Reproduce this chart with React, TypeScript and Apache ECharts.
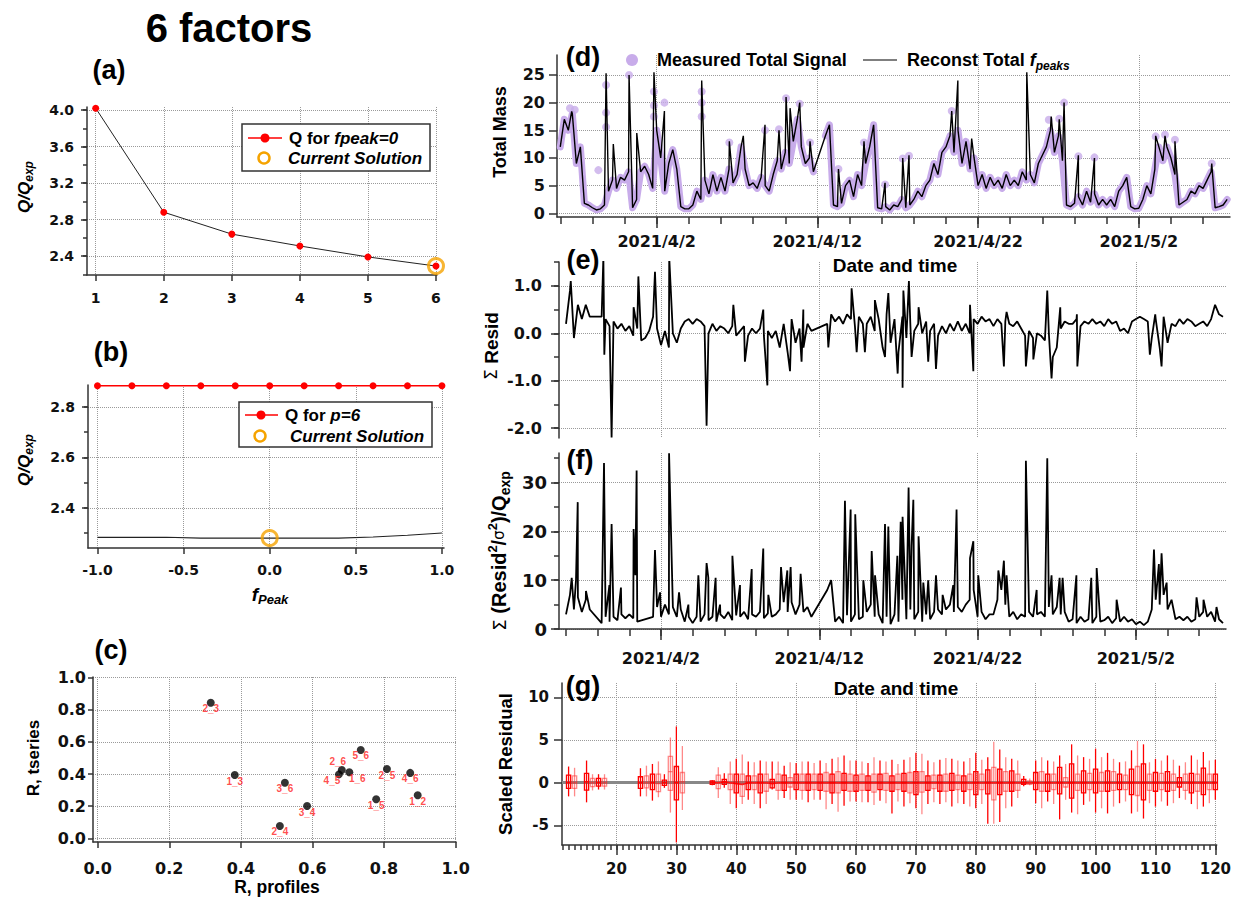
import React, { useEffect, useRef } from "react";
import * as echarts from "echarts";

// ---------------- (a) Q/Qexp vs number of factors ----------------
const factorCounts = [1, 2, 3, 4, 5, 6];
const qForFpeak0 = [4.02, 2.88, 2.64, 2.51, 2.39, 2.29];
const currentSolutionA = [6, 2.29];

// ---------------- (b) Q/Qexp vs fpeak ----------------
const fpeakValues = [-1, -0.8, -0.6, -0.4, -0.2, 0, 0.2, 0.4, 0.6, 0.8, 1];
const qForP6 = [2.883, 2.883, 2.883, 2.883, 2.883, 2.883, 2.883, 2.883, 2.883, 2.883, 2.883];
const qVsFpeak = [2.284, 2.284, 2.284, 2.281, 2.281, 2.281, 2.281, 2.281, 2.285, 2.292, 2.301];
const currentSolutionB = [0, 2.281];

// ---------------- (c) correlations ----------------
const pairNames = ["2_3", "1_3", "3_6", "3_4", "2_4", "4_5", "2_6", "1_6", "5_6", "2_5", "4_6", "1_5", "1_2"];
const rProfiles = [0.316, 0.383, 0.523, 0.585, 0.509, 0.674, 0.682, 0.703, 0.735, 0.808, 0.873, 0.778, 0.894];
const rTseries = [0.844, 0.394, 0.346, 0.201, 0.077, 0.398, 0.425, 0.411, 0.55, 0.431, 0.407, 0.243, 0.268];

// ---------------- time series (days since 2021-03-01), regular step ----------------
const tsStart = 26;
const tsStep = 0.25;

// (d) total mass
const totalMass = [
  12, 17, 15, 18, 9, 12, 1.8, 1.5, 1.0, 0.6, 0.8, 1.5, 4, 6, 4.5, 6.5,
  6, 7.5, 1.0, 2.5, 7.5, 8.5, 7, 4.5, 15, 10, 4, 9, 11.5, 8, 1.2, 0.8,
  0.8, 1.5, 4, 2.5, 6, 3.5, 7, 4, 6.5, 4, 8, 5.5, 7, 12, 8, 5,
  5.5, 4.5, 6.5, 5, 4, 7, 9.5, 8, 11, 9, 13, 17, 12, 9, 10, 7.5,
  null, null, 14, 16, 1.5, 1.2, 1.8, 5, 6, 3, 7, 5, 9, 12, 16, 1.0,
  0.8, 1.2, 0.6, 1.5, 1.2, 2.5, 1.0, 1.5, 2.5, 4, 3, 5, 6, 9, 7, 11,
  12, 14, 11, 15, 9, 13, 8, 10, 5, 7, 4.5, 6.5, 5, 6, 4.5, 7,
  5, 6, 5, 7.5, 6, 7, 5.5, 9, 10.5, 12, 15, 11, 14, 9.5, 1.5, 1.2,
  1.8, 3, 1.5, 4, 2, 3.5, 1.5, 2.5, 1.5, 2.5, 1.2, 4, 5, 6.5, 1.2, 0.8,
  0.9, 2.5, 5, 3.5, 8, 12, 9.5, 12, 10, 7, 1.5, 2, 2.5, 4, 3.5, 5,
  4.5, 6, 7.5, 1.0, 1.2, 1.5, 2.5,
];
const massSpikeT = [26.71, 28.85, 29.3, 30.28, 30.76, 31.83, 32.48, 34.8, 36.52, 37.39, 38.74, 39.61, 40.05, 40.3, 40.9, 41.54, 43.31, 44.9, 46.21, 47.31, 47.7, 50.36, 50.74, 51.6, 55.03, 56.55, 57.05, 57.35, 58.24, 59.24, 63.05, 63.63, 64.25, 66.54];
const massSpikeV = [18.4, 25.3, 12.5, 25.0, 14.5, 25.5, 18.5, 24.0, 13.0, 14.0, 16.0, 15.0, 21.0, 19.0, 20.0, 13.0, 8.0, 13.0, 5.5, 10.0, 10.5, 18.5, 24.0, 13.5, 25.5, 17.5, 17.0, 20.0, 10.5, 10.0, 14.0, 14.0, 13.0, 9.0];
const measuredExtraT = [26.6, 26.9, 28.37, 28.85, 28.85, 28.85, 30.28, 31.83, 31.83, 31.83, 32.48, 34.8, 34.8, 34.8, 36.52, 38.74, 39.61, 40.05, 40.9, 41.54, 43.31, 44.9, 46.21, 47.31, 47.7, 50.36, 56.4, 57.05, 57.35, 58.24, 59.24, 63.05, 63.63, 64.25, 66.54];
const measuredExtraV = [19.0, 18.7, 7.8, 23.2, 18.2, 15.6, 25.0, 22.0, 19.5, 17.5, 20.0, 22.0, 20.0, 17.5, 12.8, 15.0, 15.2, 20.8, 19.8, 12.8, 8.0, 12.8, 5.2, 9.9, 10.4, 18.5, 16.9, 17.1, 20.0, 10.3, 10.1, 13.9, 14.2, 13.3, 9.0];

// (e) sum of residuals
const sumResid = [
  0.2, 0.9, -0.1, 0.6, 0.3, 0.6, 0.35, null, null, 0.35, 0.3, 0.15, 0.25, 0.1, 0.2, 0.05,
  0.15, -0.05, 0.1, -0.15, -0.1, 0.05, 0.35, 0.1, -0.25, 0.05, -0.3, 0.0, -0.2, 0.1, 0.25, 0.3,
  0.2, 0.3, 0.25, 0.15, 0.0, 0.2, 0.05, 0.15, 0.1, 0.0, 0.15, -0.05, 0.05, 0.15, -0.05, 0.1,
  0.0, 0.1, -0.05, 0.05, -0.1, 0.05, -0.3, 0.2, -0.4, 0.3, -0.2, 0.1, -0.3, 0.2, 0.05, null,
  null, null, 0.2, 0.4, 0.25, 0.35, 0.2, 0.4, 0.3, 0.15, 0.35, 0.2, 0.2, 0.35, 0.05, 0.3,
  -0.3, 0.4, -0.2, 0.3, -0.4, 0.35, -0.1, 0.2, 0.05, 0.2, 0.0, 0.25, 0.05, 0.2, -0.05, 0.15,
  0.0, 0.2, 0.05, 0.25, 0.05, 0.2, 0.0, 0.3, 0.2, 0.35, 0.25, 0.3, 0.15, 0.3, 0.2, 0.25,
  0.2, 0.15, 0.25, 0.1, -0.05, 0.05, -0.1, 0.0, -0.05, -0.15, 0.0, -0.5, -0.3, 0.1, 0.25, 0.2,
  0.2, 0.3, 0.15, 0.25, 0.2, 0.3, 0.2, 0.25, 0.15, 0.3, 0.2, 0.25, 0.05, 0.1, 0.0, 0.25,
  0.3, 0.35, 0.3, 0.25, -0.1, 0.3, -0.3, 0.35, -0.2, 0.2, 0.15, 0.3, 0.2, 0.3, 0.25, 0.15,
  0.2, 0.25, 0.15, 0.3, 0.6, 0.4, 0.35,
];
const residSpikeT = [26.3, 28.36, 28.42, 28.88, 30.27, 30.57, 31.62, 32.52, 34.88, 36.57, 37.3, 38.46, 38.72, 40.15, 40.88, 40.99, 42.57, 44.04, 44.36, 44.88, 45.51, 46.15, 46.36, 46.95, 47.26, 47.31, 47.66, 47.83, 48.27, 48.88, 49.37, 51.52, 51.73, 53.66, 53.83, 55.05, 55.52, 56.4, 56.67, 57.22, 58.27, 58.3, 62.88, 63.22, 63.62];
const residSpikeV = [1.1, 1.6, -0.45, -2.2, 0.55, 1.2, 1.3, 1.6, -1.95, 0.6, -0.6, 0.5, -1.1, -0.8, -0.6, 0.5, -0.3, 0.95, -0.4, -0.4, 0.7, -0.5, 0.85, -0.85, -1.15, 0.9, 1.1, -0.5, 0.55, -0.6, -0.75, 0.6, -0.8, -0.7, 0.45, -0.7, -0.55, 0.9, -0.95, 0.55, 0.4, -0.7, -0.45, 0.4, -0.7];

// (f) scaled Q contribution
const scaledQ = [
  3, 7, 4, 6.5, 3.5, 6, 4, null, null, 1.2, 2.5, 1.5, 2.5, 1.8, 3, 2.2,
  3, 2.2, 1.5, null, null, null, 2.5, 4.5, 2.5, 5, 3, 4.5, 2.5, 4, 1.5, 2.5,
  1.2, 2.5, 1.5, 3, 1.8, 2.5, 1.5, 3, 2.2, 3.5, 1.8, 2.8, 2.5, 3.5, 2, 3,
  2.5, 3.5, 2.2, 3.2, 2.5, 3, 4, 5.5, 3.5, 5.5, 3, 5, 3.5, 4.5, 2.5, null,
  null, null, 8, 10, 1.5, 2.5, 1.2, 2.8, 1.5, 3, 2, 2.5, 3.5, 5, 2.5, 3,
  1.2, 2.5, 1.0, 3, 1.5, 6, 2, 4, 2, 3.5, 1.5, 3, 2, 3.5, 4, 3,
  4, 5, 3.5, 4.5, 3.5, 5, 6, 8, 2.5, 3.5, 2, 3, 3, 6, 8, 5,
  2.5, 3.5, 2, 3, 2.5, 3.5, 2.5, 3, 3.5, 2.5, 4.5, 3, 4.5, 3, 3.5, 1.5,
  2, 1.2, 2.5, 1.5, 2, 1.2, 2.5, 1.5, 1.8, 2.5, 1.2, 2.2, 1.5, 2.5, 1.5, 2,
  1, 1.5, 0.8, 1.5, 4, 6, 5, 7, 4, 6, 2, 2.5, 1.8, 2.5, 1.5, 2,
  2.5, 3.5, 2.5, 3.5, 1.5, 2, 1.2,
];
const qSpikeT = [26.36, 26.63, 26.74, 27.26, 28.4, 28.74, 28.88, 29.47, 30.27, 30.38, 30.46, 31.62, 31.94, 32.51, 33.14, 33.73, 34.36, 34.88, 34.99, 35.45, 35.73, 36.51, 36.99, 37.73, 38.46, 38.78, 39.58, 39.98, 40.19, 40.82, 43.62, 43.98, 44.27, 44.78, 45.31, 45.52, 46.15, 46.36, 46.93, 47.14, 47.26, 47.64, 47.83, 47.94, 48.27, 48.57, 48.88, 49.37, 49.79, 50.46, 50.67, 51.52, 51.73, 52.04, 53.31, 53.66, 53.83, 55.05, 55.73, 56.4, 56.67, 57.18, 57.37, 58.24, 59.18, 59.52, 60.78, 63.14, 63.45, 63.62, 63.94, 65.83, 66.27, 67.09];
const qSpikeV = [10.5, 10, 26, 7.8, 34, 9, 21.5, 8.5, 20.5, 11, 32.5, 16.2, 7.5, 36, 7.5, 5, 11, 13.5, 10.5, 10.5, 5, 15, 9, 12.3, 16.5, 7, 12.7, 12, 12.7, 11.3, 26.3, 24.5, 23.5, 10, 16, 11, 21.5, 21, 15, 22, 23, 29, 17, 26.5, 19, 9.5, 10, 11, 7, 9, 24.5, 14.5, 18, 11, 12, 14, 11, 34.5, 8, 35, 11, 10.5, 10.5, 11, 10.5, 12.5, 6, 16.3, 13.3, 15.5, 9.5, 6.5, 6, 4.5];

// ---------------- (g) scaled residual box plots ----------------
const boxX = [12, 13, 15, 16, 17, 18, 24, 25, 26, 27, 28, 29, 30, 31,
  36, 37, 38, 39, 40, 41, 42, 43, 44, 45, 46, 47, 48, 49, 50, 51, 52, 53, 54, 55, 56, 57, 58, 59, 60,
  61, 62, 63, 64, 65, 66, 67, 68, 69, 70, 71, 72, 73, 74, 75, 76, 77, 78, 79, 80,
  81, 82, 83, 84, 85, 86, 87, 88, 89, 90, 91, 92, 93, 94, 95, 96, 97, 98, 99, 100,
  101, 102, 103, 104, 105, 106, 107, 108, 109, 110, 111, 112, 113, 114, 115, 116, 117, 118, 119, 120];
const boxMin = [-1.6, -1.6, -2.3, -0.9, -0.8, -0.8, -1.6, -1.6, -2.1, -1.7, -0.6, -3.5, -7.0, -3.2,
  -0.3, -1.8, -0.6, -2.5, -3.0, -2.5, -2.0, -2.5, -3.0, -2.5, -0.8, -2.0, -1.8, -2.0, -2.0, -2.0, -2.3, -2.0, -2.0, -3.1, -2.5, -3.4, -2.7, -2.2, -2.2,
  -2.3, -2.3, -2.6, -2.1, -2.4, -3.6, -2.2, -2.8, -2.4, -3.0, -3.7, -2.5, -2.3, -2.5, -2.3, -2.8, -2.4, -2.5, -2.8, -3.0,
  -2.5, -4.8, -4.8, -4.6, -3.0, -2.8, -1.8, -0.4, -0.3, -2.4, -3.0, -2.2, -2.5, -4.3, -2.0, -3.5, -3.7, -2.6, -2.2, -3.5,
  -3.0, -3.6, -2.8, -2.4, -2.2, -3.6, -3.4, -4.2, -2.4, -2.8, -2.2, -2.7, -2.4, -1.8, -2.0, -2.5, -3.1, -2.8, -2.4, -2.0];
const boxQ1 = [-0.66, -0.66, -0.86, -0.45, -0.4, -0.4, -0.66, -0.6, -0.8, -1.05, -0.3, -0.9, -2.0, -1.2,
  -0.2, -0.7, -0.2, -0.8, -1.2, -1.6, -0.8, -0.8, -1.2, -1.0, -0.6, -0.9, -0.9, -0.5, -0.8, -0.9, -0.9, -0.8, -0.9, -1.0, -1.2, -1.2, -0.9, -1.0, -1.0,
  -0.9, -0.9, -1.1, -0.8, -0.9, -1.0, -0.8, -1.0, -1.2, -1.4, -1.1, -0.9, -0.7, -1.0, -1.0, -0.9, -0.8, -1.0, -0.8, -1.4,
  -0.8, -1.3, -2.0, -1.4, -1.0, -1.0, -0.9, -0.2, -0.2, -0.8, -1.0, -1.0, -0.8, -1.3, -0.5, -1.8, -0.9, -1.2, -0.8, -1.2,
  -1.0, -1.0, -0.9, -0.8, -0.8, -1.4, -1.5, -2.0, -0.9, -1.0, -0.8, -1.0, -0.9, -0.5, -0.9, -1.2, -1.0, -1.4, -0.8, -0.8];
const boxMed = [0, 0, 0.1, 0, 0, 0, 0, 0, 0, -0.1, 0, 1.3, 0, 0.1,
  0, 0, 0.1, 0, -0.1, -0.2, 0, 0, 0, 0, -0.1, 0, 0, 0, 0, 0, 0, 0, 0, 0, 0, 0, 0, 0, 0,
  0, 0, 0, 0, 0, 0, 0, 0, 0, 0, 0, 0, 0, 0, 0, 0, 0, 0, 0, 0,
  0, 0, 0, 0, 0, 0, 0, 0, 0, 0, 0, 0, 0, 0, 0, 0, 0, 0, 0, 0,
  0, 0, 0, 0, 0, 0, 0, 0, 0, 0, 0, 0, 0, 0, 0, 0, 0, 0, 0, 0];
const boxQ3 = [0.9, 0.8, 1.1, 0.5, 0.5, 0.5, 0.7, 0.8, 1.0, 1.0, 0.3, 3.1, 1.9, 1.2,
  0.2, 0.9, 0.4, 1.0, 1.0, 1.0, 0.8, 0.8, 1.0, 1.0, 0.4, 1.0, 0.9, 0.6, 1.0, 1.0, 1.0, 1.0, 1.0, 1.2, 1.0, 1.3, 1.1, 1.0, 0.9,
  1.0, 0.8, 1.0, 1.0, 1.1, 0.8, 1.0, 1.1, 1.2, 1.3, 1.3, 0.8, 0.9, 0.9, 1.0, 1.1, 0.9, 0.8, 1.0, 1.3,
  1.0, 1.5, 1.8, 1.6, 1.3, 1.4, 1.0, 0.4, 0.2, 1.2, 1.3, 1.0, 1.0, 1.8, 0.6, 2.2, 1.0, 1.4, 1.1, 1.6,
  1.2, 1.4, 1.3, 1.0, 0.9, 1.6, 1.9, 2.2, 1.0, 1.2, 1.1, 1.3, 1.0, 0.6, 1.0, 1.1, 1.0, 1.7, 1.0, 1.0];
const boxMax = [1.9, 1.75, 2.6, 1.0, 1.0, 1.0, 1.7, 2.0, 2.2, 2.5, 1.0, 5.3, 6.6, 4.3,
  0.3, 1.8, 1.1, 2.5, 2.8, 3.3, 2.5, 2.4, 2.6, 2.5, 2.5, 2.5, 2.0, 2.4, 2.3, 2.5, 2.5, 2.3, 2.6, 2.3, 2.8, 3.0, 3.2, 2.6, 2.6,
  2.5, 2.3, 3.0, 2.6, 2.5, 2.7, 2.2, 2.7, 3.0, 3.5, 3.4, 2.6, 2.4, 2.7, 2.9, 2.8, 2.6, 2.5, 2.9, 3.5,
  2.7, 3.0, 4.8, 3.9, 3.0, 2.8, 2.6, 0.8, 0.5, 2.6, 3.0, 2.6, 2.5, 3.2, 2.2, 4.5, 3.2, 3.0, 2.8, 4.0,
  3.0, 3.5, 2.8, 2.4, 2.5, 3.8, 4.9, 4.5, 2.4, 2.8, 2.6, 3.2, 2.7, 2.0, 2.4, 3.2, 2.7, 3.6, 2.6, 2.7];

// ---------------- tick values ----------------
const aXTicks = [1, 2, 3, 4, 5, 6];
const aYMinor = [2.2, 2.4, 2.6, 2.8, 3.0, 3.2, 3.4, 3.6, 3.8, 4.0];
const aYLabels = [2.4, 2.8, 3.2, 3.6, 4.0];
const bXLabels = [-1, -0.5, 0, 0.5, 1];
const bYMinor = [2.3, 2.4, 2.5, 2.6, 2.7, 2.8];
const bYLabels = [2.4, 2.6, 2.8];
const cLabels = [0, 0.2, 0.4, 0.6, 0.8, 1.0];
const dateTicks = [32, 42, 52, 62];
const massLabels = [0, 5, 10, 15, 20, 25];
const residMinor = [-2, -1.5, -1, -0.5, 0, 0.5, 1, 1.5];
const residLabels = [-2, -1, 0, 1];
const qMinor = [0, 5, 10, 15, 20, 25, 30, 35];
const qLabels = [0, 10, 20, 30];
const gXLabels = [20, 30, 40, 50, 60, 70, 80, 90, 100, 110, 120];
const gYLabels = [-5, 0, 5, 10];

// ---------------- helpers ----------------
const AXC = "#333";
const FT = '"Liberation Sans", Arial, sans-serif';
const FN = '"DejaVu Sans", sans-serif';

const evenDays: number[] = [];
for (let d = 26; d <= 66; d += 2) evenDays.push(d);
const unitTicks: number[] = [];
for (let v = 11; v <= 120; v += 1) unitTicks.push(v);

const dayLabel = (v: number) => {
  const d = new Date(Date.UTC(2021, 2, 1) + Math.round(v) * 86400000);
  return `${d.getUTCFullYear()}/${d.getUTCMonth() + 1}/${d.getUTCDate()}`;
};
const f1 = (v: number) => v.toFixed(1);
const f0 = (v: number) => String(Math.round(v));

function axisPair(o: any) {
  const base = { type: "value", gridIndex: o.grid, min: o.min, max: o.max, position: o.pos };
  const tickStyle = { color: AXC, width: 1.5 };
  const main = {
    ...base,
    axisLine: { show: o.line !== false, onZero: false, lineStyle: { color: AXC, width: 1.5 } },
    axisTick: { show: !!o.minor, customValues: o.minor || [], length: o.minorLen ?? 5, lineStyle: tickStyle },
    axisLabel: { show: false },
    splitLine: { show: false },
  };
  const major = {
    ...base,
    axisLine: { show: false, onZero: false },
    axisTick: { show: (o.majorLen ?? 7) > 0, customValues: o.major || [], length: o.majorLen ?? 7, lineStyle: tickStyle },
    axisLabel: {
      show: !!o.labels,
      customValues: o.labels || [],
      formatter: o.fmt,
      margin: o.margin ?? 8,
      fontSize: o.fs ?? 14,
      fontWeight: "bold",
      fontFamily: FN,
      color: "#111",
    },
    splitLine: { show: true, lineStyle: { color: "#9a9a9a", type: "dotted", width: 1 } },
  };
  return [main, major];
}

function buildTs(vals: (number | null)[], spikeT?: number[], spikeV?: number[]) {
  const pts: any[] = vals.map((v, i) => [tsStart + i * tsStep, v]);
  if (spikeT && spikeV) spikeT.forEach((t, i) => pts.push([t, spikeV[i]]));
  pts.sort((a, b) => a[0] - b[0]);
  return pts;
}

const rs = (size: number, italic = false, weight = "bold", family = FT, extra: any = {}) => ({
  fontSize: size,
  fontStyle: italic ? "italic" : "normal",
  fontWeight: weight,
  fontFamily: family,
  fill: "#000",
  ...extra,
});

function text(x: number, y: number, t: string, style: any, rotation = 0, align = "center") {
  return {
    type: "text",
    x,
    y,
    rotation,
    z: 100,
    style: { text: t, fill: "#000", align, verticalAlign: "middle", ...style },
  };
}

// label placement for the crowded cluster in panel (c)
const cLabelPlace: Record<string, any> = {
  "4_5": { position: "bottom", distance: -3, offset: [-7, 0] },
  "2_6": { position: "top", distance: 0, offset: [-4, 0] },
  "1_6": { position: "bottom", distance: -3, offset: [8, 0] },
};

function buildOption() {
  const axA = [
    axisPair({ grid: 0, pos: "bottom", min: 0.872, max: 6.015, major: aXTicks, labels: aXTicks, majorLen: 6, fmt: f0, margin: 16, fs: 14 }),
    axisPair({ grid: 0, pos: "left", min: 2.192, max: 4.033, minor: aYMinor, minorLen: 4, major: aYLabels, labels: aYLabels, majorLen: 6, fmt: f1, margin: 13, fs: 14 }),
  ];
  const axB = [
    axisPair({ grid: 1, pos: "bottom", min: -1.055, max: 1.012, major: bXLabels, labels: bXLabels, majorLen: 6, fmt: f1, margin: 15, fs: 14 }),
    axisPair({ grid: 1, pos: "left", min: 2.2416, max: 2.886, minor: bYMinor, minorLen: 4, major: bYLabels, labels: bYLabels, majorLen: 6, fmt: f1, margin: 13, fs: 14 }),
  ];
  const axC = [
    axisPair({ grid: 2, pos: "bottom", min: -0.013, max: 1.001, major: cLabels, labels: cLabels, majorLen: 6, fmt: f1, margin: 18, fs: 16 }),
    axisPair({ grid: 2, pos: "left", min: -0.023, max: 1.004, major: cLabels, labels: cLabels, majorLen: 5, fmt: f1, margin: 7, fs: 16 }),
  ];
  const axD = [
    axisPair({ grid: 3, pos: "bottom", min: 25.796, max: 67.676, minor: evenDays, minorLen: 7, major: dateTicks, labels: dateTicks, majorLen: 11, fmt: dayLabel, margin: 16, fs: 16 }),
    axisPair({ grid: 3, pos: "left", min: -0.67, max: 28.61, major: massLabels, labels: massLabels, majorLen: 8, fmt: f0, margin: 12, fs: 16 }),
  ];
  const axE = [
    axisPair({ grid: 4, pos: "bottom", min: 25.557, max: 67.69, line: false, major: dateTicks, majorLen: 0 }),
    axisPair({ grid: 4, pos: "left", min: -2.209, max: 1.504, minor: residMinor, minorLen: 5, major: residLabels, labels: residLabels, majorLen: 8, fmt: f1, margin: 17, fs: 16 }),
  ];
  const axF = [
    axisPair({ grid: 5, pos: "bottom", min: 25.557, max: 67.69, minor: evenDays, minorLen: 7, major: dateTicks, labels: dateTicks, majorLen: 11, fmt: dayLabel, margin: 21, fs: 16 }),
    axisPair({ grid: 5, pos: "left", min: 0, max: 36.07, minor: qMinor, minorLen: 5, major: qLabels, labels: qLabels, majorLen: 8, fmt: f0, margin: 12, fs: 18 }),
  ];
  const axG = [
    axisPair({ grid: 6, pos: "bottom", min: 10.9, max: 120.22, minor: unitTicks, minorLen: 5, major: gXLabels, labels: gXLabels, majorLen: 10, fmt: f0, margin: 16, fs: 15 }),
    axisPair({ grid: 6, pos: "left", min: -7.3, max: 11.69, major: gYLabels, labels: gYLabels, majorLen: 8, fmt: f0, margin: 13, fs: 15 }),
  ];
  const all = [axA, axB, axC, axD, axE, axF, axG];
  const xAxis: any[] = [];
  const yAxis: any[] = [];
  all.forEach((p) => {
    xAxis.push(...p[0]);
    yAxis.push(...p[1]);
  });
  const ix = (k: number) => ({ xAxisIndex: 2 * k, yAxisIndex: 2 * k });

  const orangeRing = { color: "rgba(0,0,0,0)", borderColor: "#f5a300", borderWidth: 3 };
  const purple = "#c8acea";

  const boxData = boxX.map((x, i) => [x, boxMin[i], boxQ1[i], boxMed[i], boxQ3[i], boxMax[i]]);
  const medLine = boxX.map((x, i) => [x, boxMed[i]]).filter((p) => p[0] >= 36);

  const series: any[] = [
    // (a)
    {
      type: "line", ...ix(0), data: factorCounts.map((x, i) => [x, qForFpeak0[i]]),
      symbol: "circle", symbolSize: 7, itemStyle: { color: "#ff0000" }, lineStyle: { color: "#222", width: 1 }, clip: false, z: 3,
    },
    { type: "scatter", ...ix(0), data: [currentSolutionA], symbol: "circle", symbolSize: 15, itemStyle: orangeRing, clip: false, z: 4 },
    // (b)
    {
      type: "line", ...ix(1), data: fpeakValues.map((x, i) => [x, qForP6[i]]),
      symbol: "circle", symbolSize: 7, itemStyle: { color: "#ff0000" }, lineStyle: { color: "#ff0000", width: 1.5 }, clip: false, z: 3,
    },
    { type: "line", ...ix(1), data: fpeakValues.map((x, i) => [x, qVsFpeak[i]]), symbol: "none", lineStyle: { color: "#222", width: 1.2 }, z: 3 },
    { type: "scatter", ...ix(1), data: [currentSolutionB], symbol: "circle", symbolSize: 15, itemStyle: orangeRing, clip: false, z: 4 },
    // (c)
    {
      type: "scatter", ...ix(2),
      data: pairNames.map((n, i) => ({ name: n, value: [rProfiles[i], rTseries[i]], label: cLabelPlace[n] })),
      symbol: "circle", symbolSize: 8, itemStyle: { color: "#000" },
      label: { show: true, position: "bottom", distance: -3, formatter: "{b}", color: "#ff2020", fontSize: 10, fontWeight: "bold", fontFamily: FT },
      z: 3,
    },
    // (d)
    {
      type: "line", ...ix(3), data: buildTs(totalMass), symbol: "none", connectNulls: false,
      lineStyle: { color: purple, width: 7, cap: "round", join: "round" }, z: 2,
    },
    { type: "scatter", ...ix(3), data: measuredExtraT.map((t, i) => [t, measuredExtraV[i]]), symbol: "circle", symbolSize: 8, itemStyle: { color: purple }, z: 2 },
    {
      type: "line", ...ix(3), data: buildTs(totalMass, massSpikeT, massSpikeV), symbol: "none", connectNulls: true,
      lineStyle: { color: "#000", width: 1.4 }, z: 3,
    },
    // (e)
    {
      type: "line", ...ix(4), data: buildTs(sumResid, residSpikeT, residSpikeV), symbol: "none", connectNulls: true,
      lineStyle: { color: "#000", width: 1.8 }, z: 3,
    },
    // (f)
    {
      type: "line", ...ix(5), data: buildTs(scaledQ, qSpikeT, qSpikeV), symbol: "none", connectNulls: true,
      lineStyle: { color: "#000", width: 1.8 }, z: 3,
    },
    // (g)
    {
      type: "line", ...ix(6), data: medLine, symbol: "none", lineStyle: { color: "#ff0000", width: 1.5 }, z: 3,
      markLine: { z: 1, silent: true, symbol: "none", label: { show: false }, lineStyle: { color: "#888", width: 3, type: "solid" }, data: [{ yAxis: 0 }] },
    },
    {
      type: "custom", ...ix(6), data: boxData, encode: { x: 0, y: [1, 2, 3, 4, 5] }, z: 4,
      renderItem: (params: any, api: any) => {
        const x = api.value(0);
        const lo = api.coord([x, api.value(1)]);
        const q1 = api.coord([x, api.value(2)]);
        const md = api.coord([x, api.value(3)]);
        const q3 = api.coord([x, api.value(4)]);
        const hi = api.coord([x, api.value(5)]);
        const w = api.size([0.7, 0])[0];
        const light = params.dataIndex % 2 === 1;
        const c = light ? "rgba(255,40,40,0.55)" : "#ff0000";
        return {
          type: "group",
          children: [
            { type: "line", shape: { x1: lo[0], y1: lo[1], x2: hi[0], y2: hi[1] }, style: { stroke: c, lineWidth: 1.3 } },
            { type: "rect", shape: { x: q3[0] - w / 2, y: q3[1], width: w, height: q1[1] - q3[1] }, style: { fill: "none", stroke: c, lineWidth: 1.3 } },
            { type: "line", shape: { x1: md[0] - w / 2, y1: md[1], x2: md[0] + w / 2, y2: md[1] }, style: { stroke: c, lineWidth: 1.3 } },
          ],
        };
      },
    },
  ];

  const sub = (size: number, italic = true) => rs(size, italic, "bold", FT, { lineHeight: size, verticalAlign: "bottom" });
  const sup = (size: number) => rs(size, false, "bold", FT, { lineHeight: size, verticalAlign: "top" });
  const PI2 = Math.PI / 2;

  const graphics: any[] = [
    text(229, 28, "6 factors", rs(40)),
    text(109, 70, "(a)", rs(27)),
    text(111, 352, "(b)", rs(27)),
    text(111, 650, "(c)", rs(27)),
    text(583, 57, "(d)", rs(27)),
    text(583, 260, "(e)", rs(27)),
    text(580, 460, "(f)", rs(27)),
    text(583, 686, "(g)", rs(27)),
    // y titles
    text(24, 187, "{n|Q/Q}{b|exp}", { rich: { n: rs(17, true, "bold", FT, { lineHeight: 22 }), b: sub(12) } }, PI2),
    text(24, 460, "{n|Q/Q}{b|exp}", { rich: { n: rs(17, true, "bold", FT, { lineHeight: 22 }), b: sub(12) } }, PI2),
    text(33, 758, "R, tseries", rs(17), PI2),
    text(500, 132, "Total Mass", rs(18), PI2),
    text(491, 346, "{s|Σ }{n|Resid}", { rich: { s: rs(17, false, "normal", FN, { lineHeight: 24 }), n: rs(19, false, "bold", FT, { lineHeight: 24 }) } }, PI2),
    text(499, 551, "{s|Σ }{n|(Resid}{p|2}{n|/}{g|σ}{p|2}{n|)/Q}{b|exp}", {
      rich: {
        s: rs(18, false, "normal", FN, { lineHeight: 26 }),
        n: rs(20, false, "bold", FT, { lineHeight: 26 }),
        p: sup(13),
        g: rs(15, false, "normal", FN, { lineHeight: 26 }),
        b: sub(14, false),
      },
    }, PI2),
    text(505, 764, "Scaled Residual", rs(18.5), PI2),
    // x titles
    text(270, 594, "{n|f}{b|Peak}", { rich: { n: rs(19, true, "bold", FT, { lineHeight: 24 }), b: sub(13) } }),
    text(277, 887, "R, profiles", rs(17.5)),
    text(895, 265, "Date and time", rs(19)),
    text(896, 688, "Date and time", rs(19)),
    // legend (a)
    { type: "rect", z: 99, shape: { x: 242, y: 124, width: 188, height: 47 }, style: { fill: "#fff", stroke: "#333", lineWidth: 1.5 } },
    { type: "line", z: 100, shape: { x1: 248, y1: 138, x2: 282, y2: 138 }, style: { stroke: "#ff0000", lineWidth: 1.5 } },
    { type: "circle", z: 100, shape: { cx: 265, cy: 138, r: 4.5 }, style: { fill: "#ff0000" } },
    text(289, 138, "{n|Q for }{i|fpeak=0}", { rich: { n: rs(17), i: rs(17, true) } }, 0, "left"),
    { type: "circle", z: 100, shape: { cx: 264, cy: 158, r: 5.5 }, style: { fill: "none", stroke: "#f5a300", lineWidth: 2.5 } },
    text(288, 158, "Current Solution", rs(17, true), 0, "left"),
    // legend (b)
    { type: "rect", z: 99, shape: { x: 239, y: 402, width: 193, height: 45 }, style: { fill: "#fff", stroke: "#333", lineWidth: 1.5 } },
    { type: "line", z: 100, shape: { x1: 245, y1: 415, x2: 278, y2: 415 }, style: { stroke: "#ff0000", lineWidth: 1.5 } },
    { type: "circle", z: 100, shape: { cx: 261, cy: 415, r: 4.5 }, style: { fill: "#ff0000" } },
    text(285, 415, "{n|Q for }{i|p=6}", { rich: { n: rs(17), i: rs(17, true) } }, 0, "left"),
    { type: "circle", z: 100, shape: { cx: 260, cy: 436, r: 5.5 }, style: { fill: "none", stroke: "#f5a300", lineWidth: 2.5 } },
    text(290, 436, "Current Solution", rs(17, true), 0, "left"),
    // legend (d)
    { type: "circle", z: 100, shape: { cx: 632, cy: 60, r: 6 }, style: { fill: purple } },
    text(657, 60, "Measured Total Signal", rs(18), 0, "left"),
    { type: "line", z: 100, shape: { x1: 863, y1: 60, x2: 897, y2: 60 }, style: { stroke: "#000", lineWidth: 1.2 } },
    text(907, 60, "{n|Reconst Total }{i|f}{b|peaks}", { rich: { n: rs(18, false, "bold", FT, { lineHeight: 24 }), i: rs(18, true, "bold", FT, { lineHeight: 24 }), b: sub(12) } }, 0, "left"),
  ];

  return {
    animation: false,
    backgroundColor: "#fff",
    grid: [
      { left: 87, top: 107, width: 350, height: 168 },
      { left: 88, top: 385, width: 356, height: 163 },
      { left: 93, top: 677, width: 363, height: 165 },
      { left: 557, top: 55, width: 673, height: 162 },
      { left: 559, top: 262, width: 667, height: 176 },
      { left: 559, top: 453, width: 667, height: 176 },
      { left: 562, top: 683, width: 657, height: 162 },
    ],
    xAxis,
    yAxis,
    series,
    graphic: { elements: graphics },
  };
}

export default function App() {
  const ref = useRef<HTMLDivElement>(null);
  useEffect(() => {
    if (!ref.current) return;
    const chart = echarts.init(ref.current, null, { renderer: "svg" });
    chart.setOption(buildOption() as any);
    return () => chart.dispose();
  }, []);
  return (
    <div
      ref={ref}
      style={{ position: "fixed", left: 0, top: 0, width: 1234, height: 898, background: "#fff" }}
    />
  );
}
